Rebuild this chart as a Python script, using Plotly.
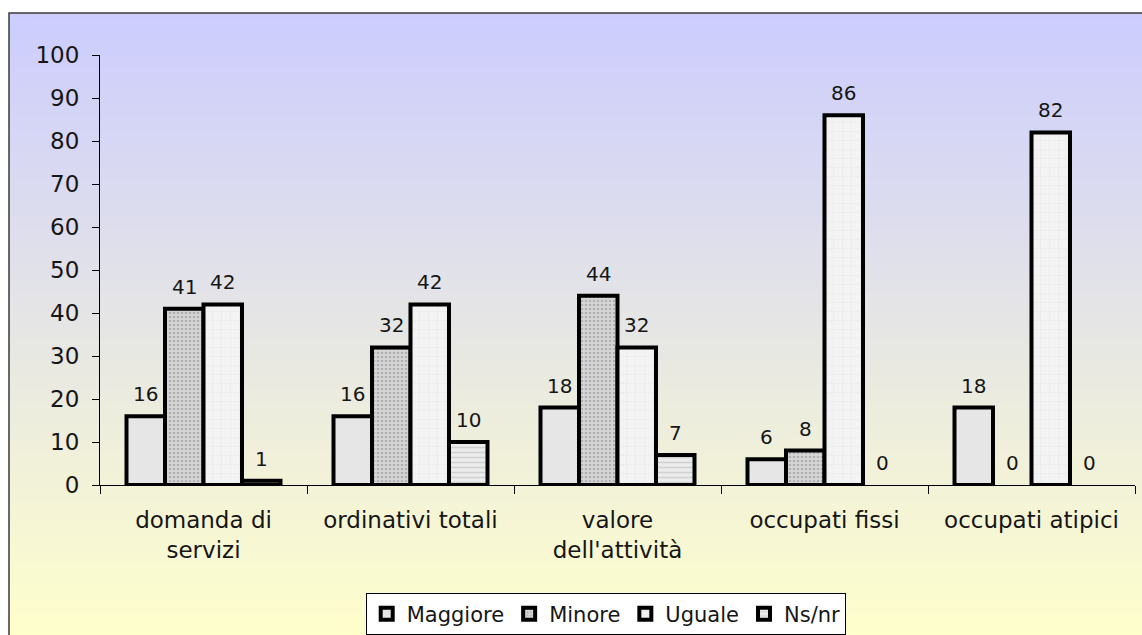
import plotly.graph_objects as go

# Categories (multi-line labels use <br>)
categories = [
    "domanda di<br>servizi",
    "ordinativi totali",
    "valore<br>dell'attività",
    "occupati fissi",
    "occupati atipici",
]
series_names = ["Maggiore", "Minore", "Uguale", "Ns/nr"]
maggiore = [16, 16, 18, 6, 18]
minore = [41, 32, 44, 8, 0]
uguale = [42, 42, 32, 86, 82]
ns_nr = [1, 10, 7, 0, 0]
y_ticks = [0, 10, 20, 30, 40, 50, 60, 70, 80, 90, 100]

series_values = [maggiore, minore, uguale, ns_nr]

# Canvas and plot-area geometry (pixels)
W, H = 1142, 635
ML, MR, MT, MB = 100, 7, 55, 150
PW, PH = W - ML - MR, H - MT - MB
BARGAP = 0.256
FONT = "DejaVu Sans"
INK = "#161616"

# Fill styles for the four series
styles = [
    dict(color="#e6e6e6", pattern=dict(shape="")),
    dict(color="#d6d6d6", pattern=dict(shape=".", fgcolor="#8c8c8c", size=4, solidity=0.35)),
    dict(color="#f3f3f3", pattern=dict(shape="+", fgcolor="#d2d2d2", size=9, solidity=0.08)),
    dict(color="#ececec", pattern=dict(shape="-", fgcolor="#b4b4b4", size=5, solidity=0.3)),
]

fig = go.Figure()
for name, vals, st in zip(series_names, series_values, styles):
    fig.add_trace(go.Bar(
        name=name,
        x=categories,
        y=vals,
        marker=dict(color=st["color"], pattern=st["pattern"],
                    # empty bars get no outline so nothing is stroked on the axis
                    line=dict(color="#000000", width=[4 if v else 0 for v in vals])),
        hoverinfo="x+y+name",
    ))

# Value labels above each bar
bar_w = (1 - BARGAP) / len(series_names)
annotations = []
for k, vals in enumerate(series_values):
    for i, v in enumerate(vals):
        annotations.append(dict(
            x=i + (k - (len(series_names) - 1) / 2) * bar_w,
            y=v, xref="x", yref="y",
            text=str(v), showarrow=False,
            yanchor="middle", yshift=22,
            font=dict(family=FONT, size=20, color=INK),
        ))

# Vertical lavender-to-yellow gradient behind the chart, with a frame
def px_to_paper_x(px):
    return (px - ML) / PW

def px_to_paper_y(py):
    return (H - MB - py) / PH

top_px, bot_px, left_px, right_px = 13, 640, 9, 1150
top_rgb = (204, 204, 255)
bot_rgb = (255, 255, 204)
n_bands = 90
shapes = []
band_h = (bot_px - top_px) / n_bands
for j in range(n_bands):
    t = (j + 0.5) / n_bands
    r, g, b = [round(a + (c - a) * t) for a, c in zip(top_rgb, bot_rgb)]
    y0 = top_px + j * band_h
    y1 = y0 + band_h + 0.8
    shapes.append(dict(
        type="rect", xref="paper", yref="paper", layer="below",
        x0=px_to_paper_x(left_px), x1=px_to_paper_x(right_px),
        y0=px_to_paper_y(y1), y1=px_to_paper_y(y0),
        fillcolor=f"rgb({r},{g},{b})", line=dict(width=0),
    ))
shapes.append(dict(
    type="rect", xref="paper", yref="paper", layer="below",
    x0=px_to_paper_x(left_px), x1=px_to_paper_x(right_px),
    y0=px_to_paper_y(bot_px), y1=px_to_paper_y(top_px),
    fillcolor="rgba(0,0,0,0)", line=dict(color="#3a3a3a", width=1.5),
))

fig.update_layout(
    width=W, height=H,
    margin=dict(l=ML, r=MR, t=MT, b=MB, autoexpand=False),
    paper_bgcolor="#ffffff",
    plot_bgcolor="rgba(0,0,0,0)",
    barmode="group",
    bargap=BARGAP,
    bargroupgap=0,
    font=dict(family=FONT, color=INK, size=22),
    shapes=shapes,
    annotations=annotations,
    showlegend=True,
    legend=dict(
        orientation="h",
        xref="container", yref="container",
        x=606 / W, xanchor="center",
        y=1 - 614 / H, yanchor="middle",
        bgcolor="#ffffff", bordercolor="#000000", borderwidth=1.2,
        font=dict(family=FONT, size=21, color=INK),
        itemwidth=30, tracegroupgap=0,
    ),
    xaxis=dict(
        type="category",
        showline=True, linecolor="#000000", linewidth=1.2,
        ticks="outside", tickson="boundaries", ticklen=8,
        tickcolor="#000000", tickwidth=1.2,
        ticklabelstandoff=14,
        showgrid=False, zeroline=False,
        tickfont=dict(family=FONT, size=23, color=INK),
        fixedrange=True,
    ),
    yaxis=dict(
        range=[0, 100], tickvals=y_ticks,
        showline=True, linecolor="#000000", linewidth=1.2,
        ticks="outside", ticklen=7, tickcolor="#000000", tickwidth=1.2,
        ticklabelstandoff=8,
        showgrid=False, zeroline=False,
        tickfont=dict(family=FONT, size=23, color=INK),
        fixedrange=True,
    ),
)

fig.write_html("out.html")
